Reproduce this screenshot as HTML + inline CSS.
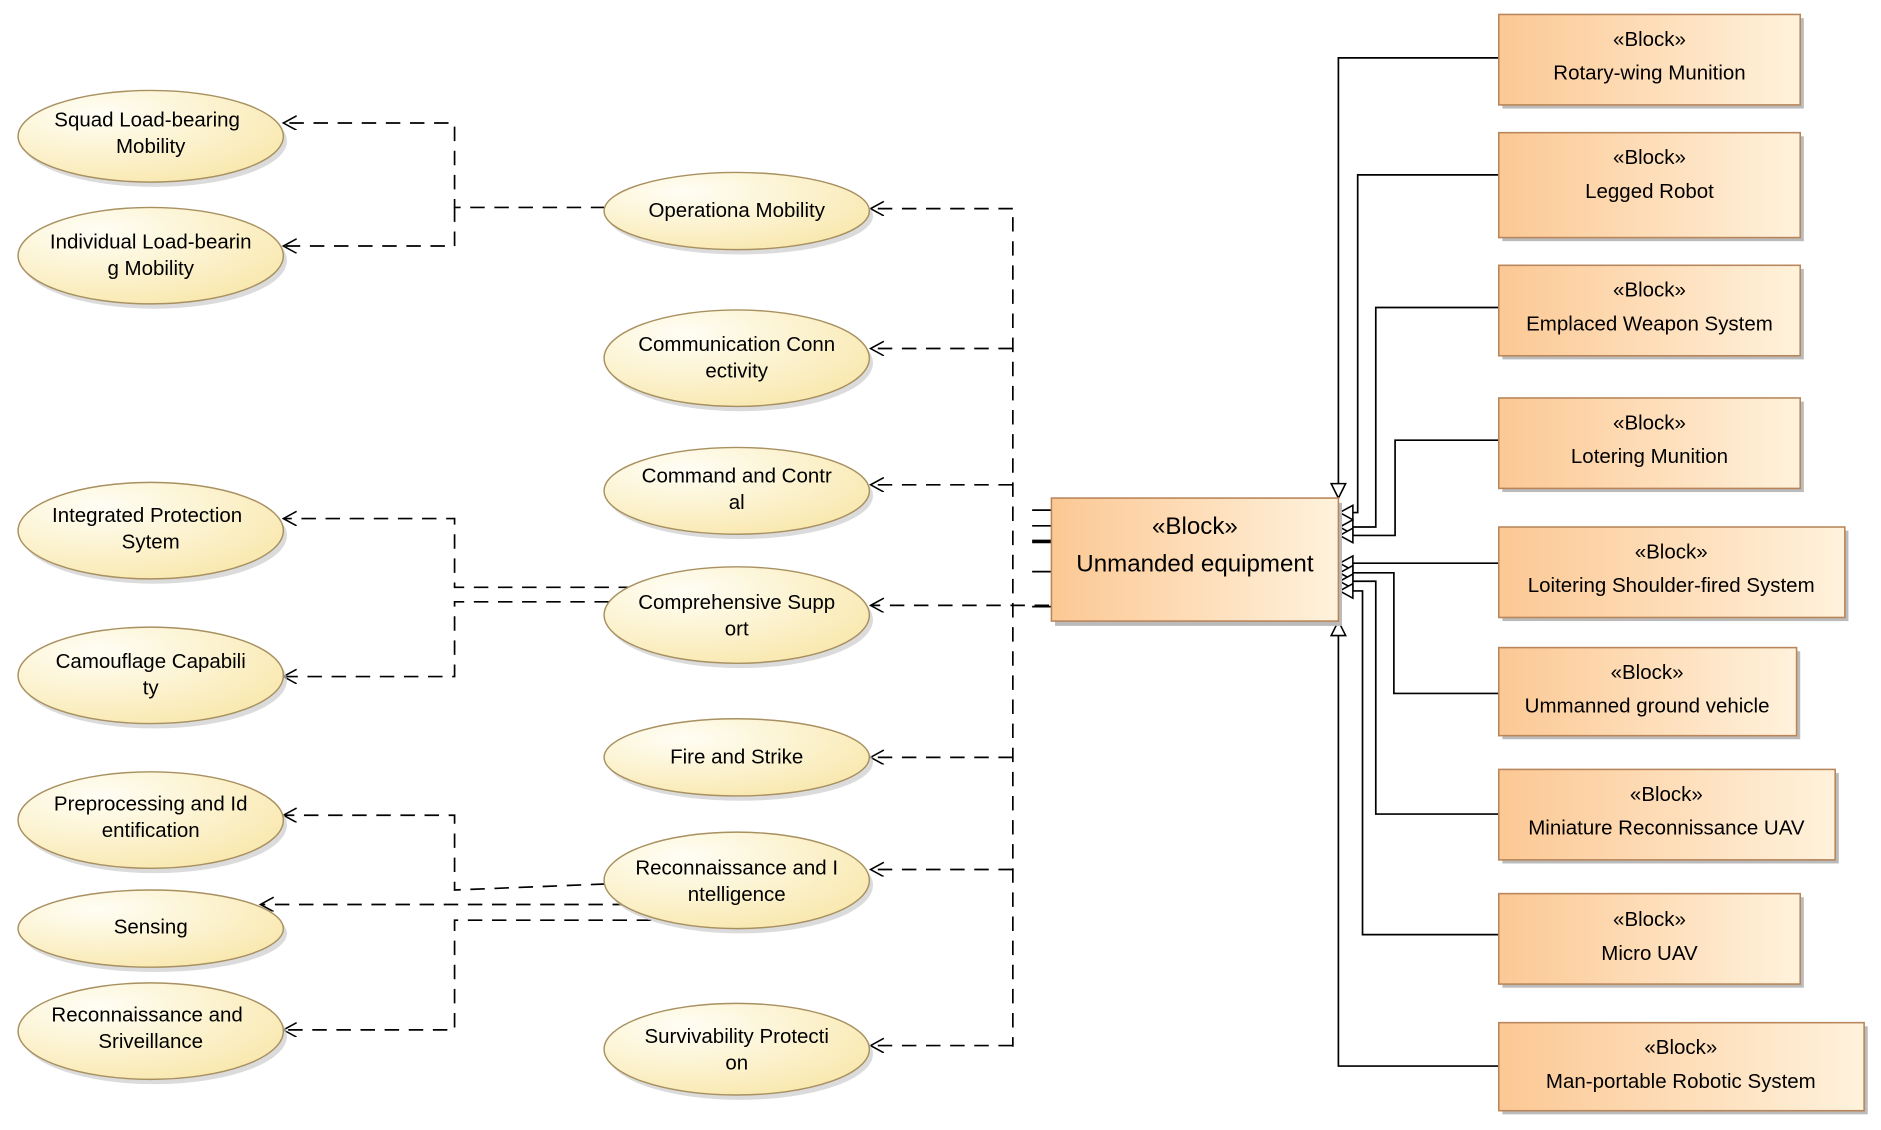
<!DOCTYPE html>
<html><head><meta charset="utf-8"><style>html,body{margin:0;padding:0;background:#fff}svg{display:block}</style></head>
<body>
<svg width="1881" height="1130" viewBox="0 0 1560 937" preserveAspectRatio="none" xmlns="http://www.w3.org/2000/svg" font-family="Liberation Sans, sans-serif">
<defs>
<radialGradient id="eg" cx="0.3" cy="0.25" r="0.9">
<stop offset="0" stop-color="#fffef5"/><stop offset="1" stop-color="#f8e6a8"/></radialGradient>
<linearGradient id="bg" x1="0" x2="1" y1="0" y2="0">
<stop offset="0" stop-color="#fcc894"/><stop offset="1" stop-color="#fff2dc"/></linearGradient>
<marker id="oa" markerWidth="14" markerHeight="14" refX="12" refY="6" orient="auto" markerUnits="userSpaceOnUse">
<path d="M1,0 L12,6 L1,12" fill="none" stroke="#000" stroke-width="1.3"/></marker>
</defs>
<g stroke="#000" stroke-width="1.4" fill="none" stroke-dasharray="12,8">
<path d="M840,180 V868"/>
<path d="M840,173 H722" marker-end="url(#oa)"/>
<path d="M840,289 H722" marker-end="url(#oa)"/>
<path d="M840,402 H722" marker-end="url(#oa)"/>
<path d="M870,502 H722" marker-end="url(#oa)"/>
<path d="M840,628 H722" marker-end="url(#oa)"/>
<path d="M840,721 H722" marker-end="url(#oa)"/>
<path d="M840,867 H722" marker-end="url(#oa)"/>
<path d="M502,172 H377 V102 H235" marker-end="url(#oa)"/>
<path d="M377,172 V204 H235" marker-end="url(#oa)"/>
<path d="M525,487 H377 V430 H235" marker-end="url(#oa)"/>
<path d="M505,499 H377 V561 H235" marker-end="url(#oa)"/>
<path d="M502,733 L377,738 V676 H235" marker-end="url(#oa)"/>
<path d="M520,750 H216" marker-end="url(#oa)"/>
<path d="M540,763 H377 V854 H235" marker-end="url(#oa)"/>
</g>
<g stroke="#000" stroke-width="1.4">
<path d="M856,423H872M856,436H872M856,474H872M856,503H872"/>
<path d="M856,449H872" stroke-width="3"/>
</g>
<g stroke="#a89060" stroke-width="1.2" fill="url(#eg)">
<g transform="translate(3,4)" fill="#ccc" stroke="none" opacity="0.7">
<ellipse cx="125" cy="113" rx="110" ry="38"/><ellipse cx="125" cy="212" rx="110" ry="40"/>
<ellipse cx="125" cy="440" rx="110" ry="40"/><ellipse cx="125" cy="560" rx="110" ry="40"/>
<ellipse cx="125" cy="680" rx="110" ry="40"/><ellipse cx="125" cy="770" rx="110" ry="32"/>
<ellipse cx="125" cy="855" rx="110" ry="40"/>
<ellipse cx="611" cy="175" rx="110" ry="32"/><ellipse cx="611" cy="297" rx="110" ry="40"/>
<ellipse cx="611" cy="407" rx="110" ry="36"/><ellipse cx="611" cy="510" rx="110" ry="40"/>
<ellipse cx="611" cy="628" rx="110" ry="32"/><ellipse cx="611" cy="730" rx="110" ry="40"/>
<ellipse cx="611" cy="870" rx="110" ry="38"/>
</g>
<ellipse cx="125" cy="113" rx="110" ry="38"/><ellipse cx="125" cy="212" rx="110" ry="40"/>
<ellipse cx="125" cy="440" rx="110" ry="40"/><ellipse cx="125" cy="560" rx="110" ry="40"/>
<ellipse cx="125" cy="680" rx="110" ry="40"/><ellipse cx="125" cy="770" rx="110" ry="32"/>
<ellipse cx="125" cy="855" rx="110" ry="40"/>
<ellipse cx="611" cy="175" rx="110" ry="32"/><ellipse cx="611" cy="297" rx="110" ry="40"/>
<ellipse cx="611" cy="407" rx="110" ry="36"/><ellipse cx="611" cy="510" rx="110" ry="40"/>
<ellipse cx="611" cy="628" rx="110" ry="32"/><ellipse cx="611" cy="730" rx="110" ry="40"/>
<ellipse cx="611" cy="870" rx="110" ry="38"/>
</g>
<g font-size="17" text-anchor="middle" fill="#000">
<text x="122" y="105">Squad Load-bearing</text><text x="125" y="127">Mobility</text>
<text x="125" y="206">Individual Load-bearin</text><text x="125" y="228">g Mobility</text>
<text x="122" y="433">Integrated Protection</text><text x="125" y="455">Sytem</text>
<text x="125" y="554">Camouflage Capabili</text><text x="125" y="576">ty</text>
<text x="125" y="672">Preprocessing and Id</text><text x="125" y="694">entification</text>
<text x="125" y="774">Sensing</text>
<text x="122" y="847">Reconnaissance and</text><text x="125" y="869">Sriveillance</text>
<text x="611" y="180">Operationa Mobility</text>
<text x="611" y="291">Communication Conn</text><text x="611" y="313">ectivity</text>
<text x="611" y="400">Command and Contr</text><text x="611" y="422">al</text>
<text x="611" y="505">Comprehensive Supp</text><text x="611" y="527">ort</text>
<text x="611" y="633">Fire and Strike</text>
<text x="611" y="725">Reconnaissance and I</text><text x="611" y="747">ntelligence</text>
<text x="611" y="865">Survivability Protecti</text><text x="611" y="887">on</text>
</g>
<g stroke="#000" stroke-width="1.4" fill="none">
<path d="M1243,48 H1110 V401"/>
<path d="M1243,145 H1126 V425 H1122"/>
<path d="M1243,255 H1141 V437 H1122"/>
<path d="M1243,365 H1157 V444 H1122"/>
<path d="M1243,467 H1122"/>
<path d="M1243,575 H1156 V475 H1122"/>
<path d="M1243,675 H1141 V482 H1122"/>
<path d="M1243,775 H1130 V490 H1122"/>
<path d="M1243,884 H1110 V527"/>
</g>
<g stroke="#000" stroke-width="1.3" fill="#fff">
<path d="M1104,401 L1116,401 L1110,413 Z"/>
<path d="M1104,527 L1116,527 L1110,515 Z"/>
<path d="M1122,419 L1122,431 L1111,425 Z"/>
<path d="M1122,431 L1122,443 L1111,437 Z"/>
<path d="M1122,438 L1122,450 L1111,444 Z"/>
<path d="M1122,461 L1122,473 L1111,467 Z"/>
<path d="M1122,469 L1122,481 L1111,475 Z"/>
<path d="M1122,476 L1122,488 L1111,482 Z"/>
<path d="M1122,484 L1122,496 L1111,490 Z"/>
</g>
<g fill="#bbb">
<rect x="875" y="417" width="238" height="102"/>
<rect x="1246" y="15" width="250" height="75"/><rect x="1246" y="113" width="250" height="87"/>
<rect x="1246" y="223" width="250" height="75"/><rect x="1246" y="333" width="250" height="75"/>
<rect x="1246" y="440" width="287" height="75"/><rect x="1246" y="540" width="247" height="73"/>
<rect x="1246" y="641" width="279" height="75"/><rect x="1246" y="744" width="250" height="75"/>
<rect x="1246" y="851" width="303" height="73"/>
</g>
<g fill="url(#bg)" stroke="#b8865a" stroke-width="1.3">
<rect x="872" y="413" width="238" height="102"/>
<rect x="1243" y="12" width="250" height="75"/><rect x="1243" y="110" width="250" height="87"/>
<rect x="1243" y="220" width="250" height="75"/><rect x="1243" y="330" width="250" height="75"/>
<rect x="1243" y="437" width="287" height="75"/><rect x="1243" y="537" width="247" height="73"/>
<rect x="1243" y="638" width="279" height="75"/><rect x="1243" y="741" width="250" height="75"/>
<rect x="1243" y="848" width="303" height="73"/>
</g>
<g font-size="17" text-anchor="middle" fill="#000">
<text x="991" y="443" font-size="20">«Block»</text><text x="991" y="474" font-size="20">Unmanded equipment</text>
<text x="1368" y="38">«Block»</text><text x="1368" y="66">Rotary-wing Munition</text>
<text x="1368" y="136">«Block»</text><text x="1368" y="164">Legged Robot</text>
<text x="1368" y="246">«Block»</text><text x="1368" y="274">Emplaced Weapon System</text>
<text x="1368" y="356">«Block»</text><text x="1368" y="384">Lotering Munition</text>
<text x="1386" y="463">«Block»</text><text x="1386" y="491">Loitering Shoulder-fired System</text>
<text x="1366" y="563">«Block»</text><text x="1366" y="591">Ummanned ground vehicle</text>
<text x="1382" y="664">«Block»</text><text x="1382" y="692">Miniature Reconnissance UAV</text>
<text x="1368" y="768">«Block»</text><text x="1368" y="796">Micro UAV</text>
<text x="1394" y="874">«Block»</text><text x="1394" y="902">Man-portable Robotic System</text>
</g>
</svg>
</body></html>
